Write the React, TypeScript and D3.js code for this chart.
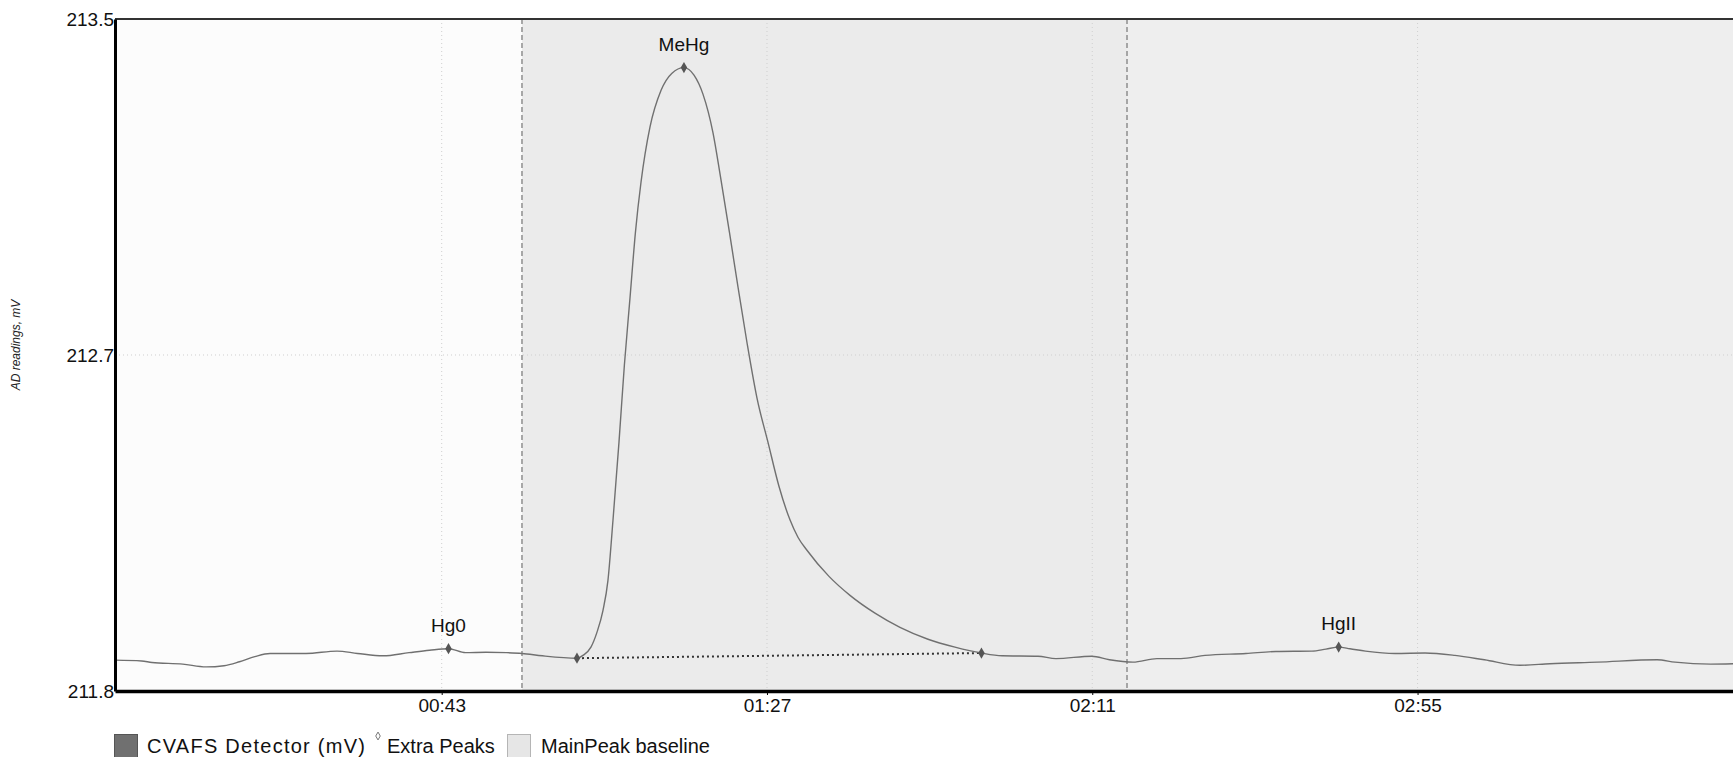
import React, { useEffect, useRef } from 'react';
import * as d3 from 'd3';

// trace: time (s) and AD reading (mV)
const traceTime = [
  -1.19, 2.42, 3.81, 7.98, 11.12, 13.55, 15.64, 17.72, 19.78, 24.64, 28.84, 31.61, 35.06, 38.58, 41.35,
  43.92, 46.22, 48.99, 51.78, 53.86, 56.63, 61.3,
  62.11, 63.19, 64.01, 64.82, 65.49, 66.17, 66.98, 67.71, 68.47, 69.21, 69.96, 71.18, 72.66, 74.15,
  75.77, 77.13, 78.34, 79.7, 80.72, 81.92, 83.08, 84.3, 85.65, 87.14, 88.62, 90.11, 91.19, 92.41, 95.39,
  98.23, 101.61, 104.99, 108.78, 112.43, 116.01,
  118.79, 123.66, 126.09, 130.92, 133.33, 136.51, 139.75, 143.0, 146.25, 151.79, 155.85, 160.72,
  162.61, 164.33, 165.86, 167.96, 171.95, 176.01, 180.06, 184.05, 188.85, 192.91, 199.35, 207.39,
  209.82, 214.65, 217.67
];
const traceValue = [
  211.878, 211.876, 211.872, 211.868, 211.861, 211.864, 211.874, 211.887, 211.895, 211.895, 211.901, 211.895, 211.889, 211.897, 211.903,
  211.907, 211.897, 211.898, 211.897, 211.895, 211.889, 211.883,
  211.89, 211.911, 211.949, 212.004, 212.08, 212.232, 212.429, 212.624, 212.794, 212.961, 213.087, 213.227, 213.319, 213.363,
  213.377, 213.358, 213.31, 213.212, 213.1, 212.961, 212.822, 212.681, 212.541, 212.429, 212.318, 212.233, 212.189, 212.156, 212.09,
  212.042, 211.997, 211.961, 211.931, 211.911, 211.896,
  211.889, 211.888, 211.882, 211.888, 211.879, 211.873, 211.882, 211.882, 211.89, 211.895, 211.9, 211.901,
  211.906, 211.911, 211.907, 211.901, 211.895, 211.896, 211.89, 211.879, 211.865, 211.869, 211.873, 211.879,
  211.873, 211.868, 211.869
];

const peakNames = ['Hg0', 'MeHg', 'HgII'];
const peakTime = [43.92, 75.77, 164.33];
const peakValue = [211.907, 213.377, 211.911];

// main peak baseline end points
const baselineTime = [61.3, 116.01];
const baselineValue = [211.883, 211.896];

// shaded integration windows
const regionEdges = [-1.19, 53.86, 135.7, 217.67];

const xTicks = [43, 87, 131, 175];
const xTickLabels = ['00:43', '01:27', '02:11', '02:55'];
const yTicks = [213.5, 212.65, 211.8];
const yTickLabels = ['213.5', '212.7', '211.8'];

const legendLabels = ['CVAFS Detector (mV)', 'Extra Peaks', 'MainPeak baseline'];

const FONT = '"Liberation Sans", Arial, sans-serif';

export default function App() {
  const svgRef = useRef<SVGSVGElement>(null);

  useEffect(() => {
    drawChart();
  }, []);

  const drawChart = () => {
    const width = 1733;
    const top = 19;
    const bottom = 691;
    const left = 115;

    const svg = d3.select(svgRef.current);
    svg.selectAll('*').remove();

    const x = d3.scaleLinear().domain([regionEdges[0], regionEdges[3]]).range([left, width]);
    const y = d3.scaleLinear().domain([211.8, 213.5]).range([bottom, top]);

    // background windows
    const regionFill = ['#fcfcfc', '#ebebeb', '#eeeeee'];
    svg.append('g')
      .selectAll('rect')
      .data(regionFill)
      .join('rect')
      .attr('x', (d, i) => x(regionEdges[i]))
      .attr('y', top)
      .attr('width', (d, i) => x(regionEdges[i + 1]) - x(regionEdges[i]))
      .attr('height', bottom - top)
      .attr('fill', d => d);

    // faint grid
    svg.append('g')
      .selectAll('line')
      .data(xTicks)
      .join('line')
      .attr('x1', d => x(d)).attr('x2', d => x(d))
      .attr('y1', top).attr('y2', bottom)
      .attr('stroke', '#cfcfcf')
      .attr('stroke-dasharray', '1,3');
    svg.append('g')
      .selectAll('line')
      .data(yTicks.slice(1, 2))
      .join('line')
      .attr('x1', left).attr('x2', width)
      .attr('y1', d => y(d)).attr('y2', d => y(d))
      .attr('stroke', '#cfcfcf')
      .attr('stroke-dasharray', '1,3');

    // window edges
    svg.append('g')
      .selectAll('line')
      .data(regionEdges.slice(1, 3))
      .join('line')
      .attr('x1', d => x(d)).attr('x2', d => x(d))
      .attr('y1', top).attr('y2', bottom)
      .attr('stroke', '#8e8e8e')
      .attr('stroke-width', 1.5)
      .attr('stroke-dasharray', '5,3');

    // main peak baseline
    svg.append('line')
      .attr('x1', x(baselineTime[0])).attr('y1', y(baselineValue[0]))
      .attr('x2', x(baselineTime[1])).attr('y2', y(baselineValue[1]))
      .attr('stroke', '#333')
      .attr('stroke-width', 2)
      .attr('stroke-dasharray', '2,3');

    // detector trace
    const line = d3.line<number>()
      .x((d, i) => x(traceTime[i]))
      .y(d => y(d))
      .curve(d3.curveMonotoneX);
    svg.append('path')
      .datum(traceValue)
      .attr('fill', 'none')
      .attr('stroke', '#707070')
      .attr('stroke-width', 1.4)
      .attr('d', line);

    // peak markers
    const diamond = d3.symbol().type(d3.symbolDiamond).size(36);
    const markerTimes = [...peakTime, ...baselineTime];
    const markerValues = [...peakValue, ...baselineValue];
    svg.append('g')
      .selectAll('path')
      .data(markerTimes)
      .join('path')
      .attr('transform', (d, i) => `translate(${x(d)},${y(markerValues[i])})`)
      .attr('d', diamond)
      .attr('fill', '#555');

    svg.append('g')
      .selectAll('text')
      .data(peakNames)
      .join('text')
      .attr('x', (d, i) => x(peakTime[i]))
      .attr('y', (d, i) => y(peakValue[i]) - 17)
      .attr('text-anchor', 'middle')
      .style('font-family', FONT)
      .style('font-size', '19px')
      .attr('fill', '#111')
      .text(d => d);

    // frame
    svg.append('line')
      .attr('x1', left).attr('x2', width)
      .attr('y1', top).attr('y2', top)
      .attr('stroke', '#333').attr('stroke-width', 2);

    const xAxis = svg.append('g')
      .attr('transform', `translate(0,${bottom})`)
      .call(d3.axisBottom(x).tickValues(xTicks).tickFormat((d, i) => xTickLabels[i]).tickSize(4).tickSizeOuter(0).tickPadding(4));
    xAxis.select('.domain').attr('stroke', '#000').attr('stroke-width', 3.5);
    xAxis.selectAll('text').style('font-family', FONT).style('font-size', '19px').attr('fill', '#111');

    const yAxis = svg.append('g')
      .attr('transform', `translate(${left},0)`)
      .call(d3.axisLeft(y).tickValues(yTicks).tickFormat((d, i) => yTickLabels[i]).tickSize(0).tickSizeOuter(0).tickPadding(1));
    yAxis.select('.domain').attr('stroke', '#000').attr('stroke-width', 3);
    yAxis.selectAll('text').style('font-family', FONT).style('font-size', '19px').attr('fill', '#111');

    svg.append('text')
      .attr('transform', `translate(20,345) rotate(-90)`)
      .attr('text-anchor', 'middle')
      .style('font-family', FONT)
      .style('font-size', '12px')
      .style('font-style', 'italic')
      .attr('fill', '#222')
      .text('AD readings, mV');

    // legend
    const lg = svg.append('g').style('font-family', FONT).style('font-size', '20px');
    lg.append('rect').attr('x', 114.5).attr('y', 734.5).attr('width', 23).attr('height', 23)
      .attr('fill', '#707070').attr('stroke', '#555');
    lg.append('text').attr('x', 147).attr('y', 753).attr('fill', '#111')
      .attr('textLength', 218).attr('lengthAdjust', 'spacing').text(legendLabels[0]);
    lg.append('path').attr('transform', 'translate(378,736)')
      .attr('d', d3.symbol().type(d3.symbolDiamond).size(18)).attr('fill', '#fff').attr('stroke', '#777');
    lg.append('text').attr('x', 387).attr('y', 753).attr('fill', '#111').text(legendLabels[1]);
    lg.append('rect').attr('x', 507.5).attr('y', 734.5).attr('width', 23).attr('height', 23)
      .attr('fill', '#e6e6e6').attr('stroke', '#b5b5b5');
    lg.append('text').attr('x', 541).attr('y', 753).attr('fill', '#111').text(legendLabels[2]);
  };

  return (
    <div style={{ position: 'absolute', left: 0, top: 0 }}>
      <svg ref={svgRef} width="1733" height="757" style={{ display: 'block', background: '#fff' }} />
    </div>
  );
}
